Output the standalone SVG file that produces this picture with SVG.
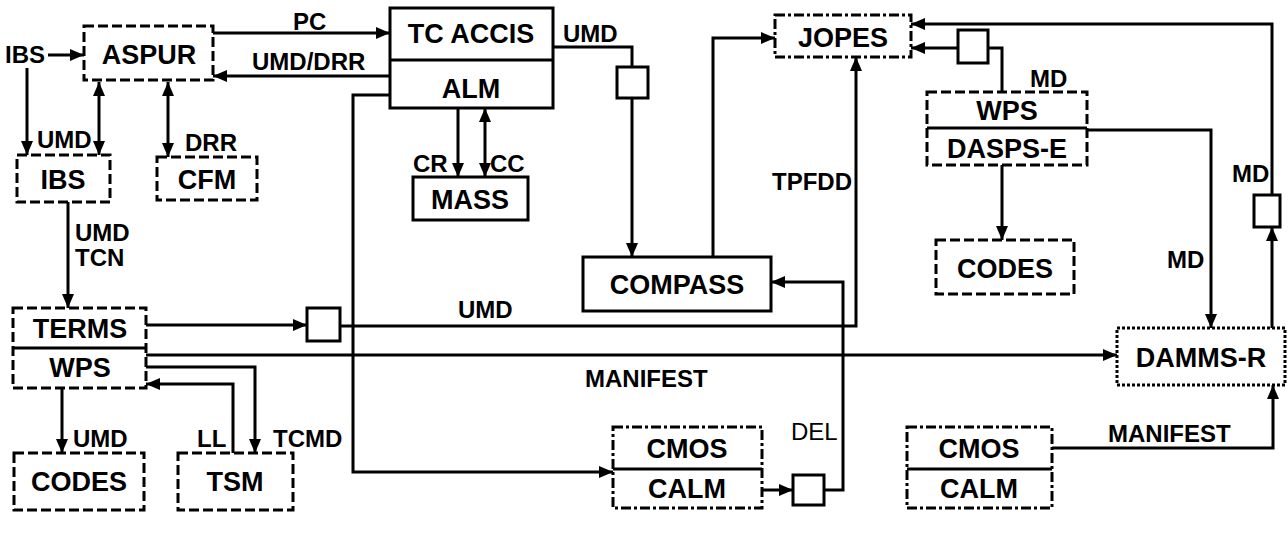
<svg xmlns="http://www.w3.org/2000/svg" width="1288" height="544" viewBox="0 0 1288 544">
<style>
text{font-family:"Liberation Sans",Arial,sans-serif;font-weight:bold;fill:#000}
.n{font-size:27px;text-anchor:middle}
.l{font-size:24px}
.box{fill:#fff;stroke:#000;stroke-width:3}
.dash{stroke-dasharray:10 4}
.dd{stroke-dasharray:10 3 3 3}
.dot{stroke-dasharray:3 2}
.div{stroke:#000;stroke-width:3}
.c{fill:none;stroke:#000;stroke-width:3}
.a{marker-end:url(#ah)}
.b{marker-start:url(#ah);marker-end:url(#ah)}
</style>
<defs>
<marker id="ah" viewBox="0 0 14 12" refX="14" refY="6" markerWidth="14" markerHeight="12" markerUnits="userSpaceOnUse" orient="auto-start-reverse"><path d="M0,0 L14,6 L0,12 z" fill="#000"/></marker>
</defs>
<rect width="1288" height="544" fill="#fff"/>
<g id="connectors">
<path class="c a" d="M48,55 H84"/>
<path class="c a" d="M27,68 V155"/>
<path class="c b" d="M99,82 V155"/>
<path class="c b" d="M168,82 V157"/>
<path class="c a" d="M213,33 H390"/>
<path class="c a" d="M390,76 H213"/>
<path class="c a" d="M390,95 H353 V472 H613"/>
<path class="c" d="M553,47 H632 V67"/>
<rect id="sb1" class="box" x="617" y="67" width="31" height="31"/>
<path class="c a" d="M632,98 V257"/>
<path class="c a" d="M458,108 V177"/>
<path class="c b" d="M485,108 V177"/>
<path class="c a" d="M713,257 V38 H775"/>
<path class="c a" d="M146,325 H307"/>
<rect id="sb2" class="box" x="307" y="308" width="33" height="33"/>
<path class="c a" d="M340,326 H856 V57"/>
<path class="c a" d="M146,355 H1117"/>
<path class="c a" d="M146,367 H255 V453"/>
<path class="c a" d="M233,453 V384 H146"/>
<path class="c a" d="M62,388 V453"/>
<path class="c a" d="M68,202 V308"/>
<path class="c a" d="M762,490 H793"/>
<rect id="sb3" class="box" x="793" y="475" width="31" height="30"/>
<path class="c a" d="M824,490 H843 V282 H771"/>
<path class="c a" d="M958,48 H911"/>
<rect id="sb4" class="box" x="958" y="30" width="30" height="33"/>
<path class="c" d="M988,48 H1002 V92"/>
<path class="c a" d="M1087,130 H1211 V328"/>
<path class="c a" d="M1002,165 V240"/>
<path class="c a" d="M1272,328 V227"/>
<rect id="sb5" class="box" x="1254" y="195" width="26" height="32"/>
<path class="c a" d="M1272,195 V24 H911"/>
<path class="c a" d="M1052,448 H1273 V385"/>
<text class="l" x="5" y="63">IBS</text>
<text class="l" x="293" y="30">PC</text>
<text class="l" x="252" y="70">UMD/DRR</text>
<text class="l" x="37" y="148">UMD</text>
<text class="l" x="185" y="151">DRR</text>
<text class="l" x="563" y="42">UMD</text>
<text class="l" x="413" y="172">CR</text>
<text class="l" x="490" y="172">CC</text>
<text class="l" x="772" y="190">TPFDD</text>
<text class="l" x="1030" y="87">MD</text>
<text class="l" x="1232" y="182">MD</text>
<text class="l" x="1167" y="268">MD</text>
<text class="l" x="75" y="241">UMD</text>
<text class="l" x="75" y="266">TCN</text>
<text class="l" x="458" y="318">UMD</text>
<text class="l" x="585" y="387">MANIFEST</text>
<text class="l" x="791" y="440" style="font-weight:normal">DEL</text>
<text class="l" x="1108" y="442">MANIFEST</text>
<text class="l" x="73" y="447">UMD</text>
<text class="l" x="197" y="447">LL</text>
<text class="l" x="273" y="447">TCMD</text>
</g>
<g id="ASPUR"><rect class="box dash" x="84" y="26" width="129" height="54"/><text class="n" x="149" y="64">ASPUR</text></g>
<g id="IBS"><rect class="box dash" x="17" y="155" width="93" height="47"/><text class="n" x="63" y="189">IBS</text></g>
<g id="CFM"><rect class="box dash" x="157" y="157" width="100" height="43"/><text class="n" x="207" y="189">CFM</text></g>
<g id="TCACCIS"><rect class="box" x="390" y="8" width="163" height="100"/><line class="div" x1="390" y1="60" x2="553" y2="60"/><text class="n" x="471" y="43">TC ACCIS</text><text class="n" x="471" y="98">ALM</text></g>
<g id="MASS"><rect class="box" x="413" y="177" width="115" height="43"/><text class="n" x="470" y="209">MASS</text></g>
<g id="JOPES"><rect class="box dd" x="775" y="15" width="136" height="42"/><text class="n" x="843" y="47">JOPES</text></g>
<g id="WPS_DASPS"><rect class="box dash" x="927" y="92" width="160" height="73"/><line class="div" x1="927" y1="128" x2="1087" y2="128"/><text class="n" x="1007" y="120">WPS</text><text class="n" x="1007" y="158">DASPS-E</text></g>
<g id="CODES_R"><rect class="box dash" x="936" y="240" width="138" height="54"/><text class="n" x="1005" y="278">CODES</text></g>
<g id="COMPASS"><rect class="box" x="583" y="257" width="188" height="54"/><text class="n" x="677" y="294">COMPASS</text></g>
<g id="TERMS_WPS"><rect class="box dash" x="13" y="308" width="133" height="80"/><line class="div" x1="13" y1="348" x2="146" y2="348"/><text class="n" x="80" y="338">TERMS</text><text class="n" x="80" y="377">WPS</text></g>
<g id="CODES_L"><rect class="box dash" x="14" y="453" width="130" height="57"/><text class="n" x="79" y="491">CODES</text></g>
<g id="TSM"><rect class="box dash" x="178" y="453" width="115" height="57"/><text class="n" x="235" y="491">TSM</text></g>
<g id="CMOS_M"><rect class="box dd" x="613" y="427" width="149" height="81"/><line class="div" x1="613" y1="469" x2="762" y2="469"/><text class="n" x="687" y="458">CMOS</text><text class="n" x="687" y="498">CALM</text></g>
<g id="CMOS_R"><rect class="box dd" x="907" y="427" width="145" height="81"/><line class="div" x1="907" y1="469" x2="1052" y2="469"/><text class="n" x="979" y="458">CMOS</text><text class="n" x="979" y="498">CALM</text></g>
<g id="DAMMS"><rect class="box dot" x="1117" y="328" width="168" height="57"/><text class="n" x="1201" y="367">DAMMS-R</text></g>
</svg>
